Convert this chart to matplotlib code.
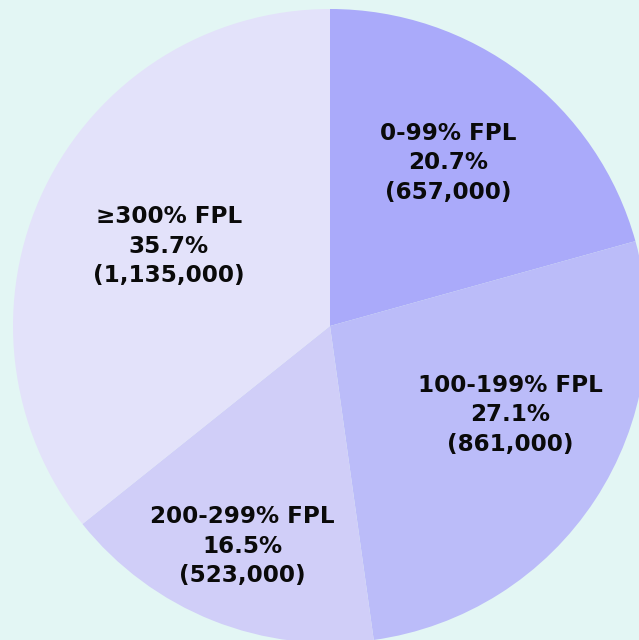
import numpy as np
import matplotlib
matplotlib.use("Agg")
import matplotlib.pyplot as plt

# Poverty-level groups and head counts
categories = ["0-99% FPL", "100-199% FPL", "200-299% FPL", "\u2265300% FPL"]
counts = [657000, 861000, 523000, 1135000]
pct_labels = ["20.7%", "27.1%", "16.5%", "35.7%"]
count_labels = ["(657,000)", "(861,000)", "(523,000)", "(1,135,000)"]

colors = ["#aaaafa", "#bbbcf9", "#d0cef8", "#e3e2fa"]
bg = "#e3f6f4"

# label placement tweaks (fraction of radius, angular shift in degrees)
label_r = [0.635, 0.633, 0.747, 0.567]
label_shift = [1.4, 7.0, 0.0, -0.7]

fig = plt.figure(figsize=(6.39, 6.40), dpi=100, facecolor=bg)
ax = fig.add_axes([0, 0, 1, 1])
ax.set_facecolor(bg)

wedges, _ = ax.pie(counts, colors=colors, startangle=90, counterclock=False,
                   radius=1.0, wedgeprops=dict(linewidth=0))

for w, cat, p, c, r, s in zip(wedges, categories, pct_labels, count_labels,
                              label_r, label_shift):
    mid = np.radians((w.theta1 + w.theta2) / 2 + s)
    ax.text(r * np.cos(mid), r * np.sin(mid), f"{cat}\n{p}\n{c}",
            ha="center", va="center", fontsize=16.6, fontweight="bold",
            linespacing=1.36, color="#0a0a0a", family="DejaVu Sans")

# pie centre sits at (330, 326) px from top-left, radius ~317 px
ax.set_xlim(-330 / 317, (639 - 330) / 317)
ax.set_ylim(-(640 - 326) / 317, 326 / 317)
ax.set_aspect("auto")
ax.axis("off")

fig.savefig("out.png", dpi=100, facecolor=bg)
